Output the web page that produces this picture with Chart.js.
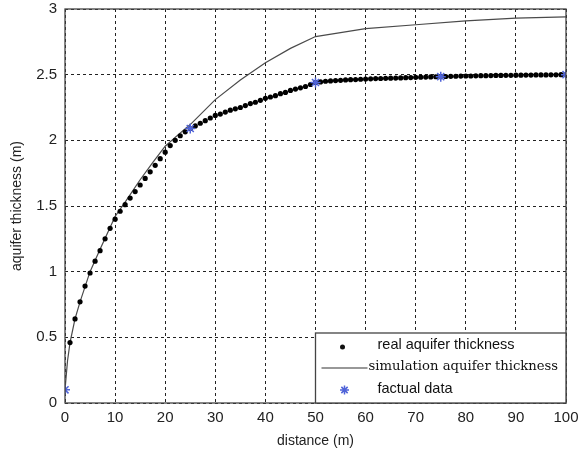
<!DOCTYPE html>
<html>
<head>
<meta charset="utf-8">
<script src="https://cdn.jsdelivr.net/npm/chart.js@4"></script>
<style>
  html, body { margin: 0; padding: 0; background: #fff; }
</style>
</head>
<body>
<canvas id="chart" width="582" height="455"></canvas>
<script>
// tick steps
const xStep = 10;
const yStep = 0.5;

// real aquifer thickness (dots)
const realDist = [
  1, 2, 3, 4, 5, 6, 7, 8, 9, 10, 11, 12, 13, 14, 15, 16, 17, 18, 19, 20,
  21, 22, 23, 24, 25, 26, 27, 28, 29, 30, 31, 32, 33, 34, 35, 36, 37, 38, 39, 40,
  41, 42, 43, 44, 45, 46, 47, 48, 49, 50, 51, 52, 53, 54, 55, 56, 57, 58, 59, 60,
  61, 62, 63, 64, 65, 66, 67, 68, 69, 70, 71, 72, 73, 74, 75, 76, 77, 78, 79, 80,
  81, 82, 83, 84, 85, 86, 87, 88, 89, 90, 91, 92, 93, 94, 95, 96, 97, 98, 99, 100
];
const realThick = [
  0.46, 0.64, 0.77, 0.89, 0.99, 1.08, 1.16, 1.25, 1.33, 1.40,
  1.46, 1.51, 1.56, 1.61, 1.66, 1.71, 1.76, 1.81, 1.86, 1.91,
  1.96, 2.0, 2.035, 2.065, 2.09, 2.11, 2.13, 2.15, 2.17, 2.19,
  2.20, 2.215, 2.23, 2.24, 2.25, 2.265, 2.28, 2.29, 2.305, 2.32,
  2.33, 2.34, 2.355, 2.365, 2.38, 2.39, 2.40, 2.41, 2.425, 2.44,
  2.445, 2.45, 2.452, 2.455, 2.457, 2.46, 2.462, 2.463, 2.465, 2.467,
  2.468, 2.47, 2.471, 2.472, 2.473, 2.474, 2.475, 2.477, 2.478, 2.48,
  2.481, 2.482, 2.483, 2.484, 2.485, 2.486, 2.487, 2.488, 2.489, 2.49,
  2.49, 2.491, 2.492, 2.492, 2.493, 2.494, 2.494, 2.495, 2.495, 2.496,
  2.496, 2.497, 2.497, 2.498, 2.498, 2.498, 2.499, 2.499, 2.5, 2.5
];

// simulation aquifer thickness (line)
const simDist = [0, 0.5, 1, 2, 3, 5, 7, 10, 12, 15, 17.5, 20, 22.5, 25, 30, 35, 40, 45, 50, 55, 60, 70, 80, 90, 100];
const simThick = [0.1, 0.32, 0.46, 0.64, 0.77, 1.0, 1.17, 1.42, 1.53, 1.70, 1.83, 1.955, 2.04, 2.12, 2.31, 2.46, 2.59, 2.70, 2.79, 2.82, 2.85, 2.88, 2.91, 2.93, 2.94];

// factual data (stars)
const factDist = [0, 25, 50, 75, 100];
const factThick = [0.1, 2.09, 2.44, 2.485, 2.5];

const legendLabels = ["real aquifer thickness", "simulation aquifer thickness", "factual data"];

const toXY = (xs, ys) => xs.map((x, i) => ({ x, y: ys[i] }));

const starBlue = "#4f63d8";
const tickFont = "'Liberation Sans Narrow', 'Liberation Sans', Arial, sans-serif";

// solid box around the plot
const frame = {
  id: "frame",
  afterDraw(chart) {
    const { ctx, chartArea: a } = chart;
    ctx.save();
    ctx.strokeStyle = "#444";
    ctx.lineWidth = 1.3;
    ctx.setLineDash([]);
    ctx.strokeRect(a.left, a.top, a.right - a.left, a.bottom - a.top);
    ctx.restore();
  },
};

// matlab-like legend box in the lower right corner
const boxLegend = {
  id: "boxLegend",
  afterDraw(chart) {
    const { ctx, chartArea: a } = chart;
    const x = chart.scales.x.getPixelForValue(50);
    const w = a.right - x;
    const h = 70;
    const y = a.bottom - h;
    ctx.save();
    ctx.fillStyle = "#fff";
    ctx.fillRect(x, y, w, h);
    ctx.strokeStyle = "#444";
    ctx.lineWidth = 1.3;
    ctx.strokeRect(x, y, w, h);
    ctx.fillStyle = "#111";
    ctx.textBaseline = "middle";

    // row 1: dot
    let ry = y + 12;
    ctx.beginPath();
    ctx.arc(x + 27, ry + 2, 2.5, 0, Math.PI * 2);
    ctx.fill();
    ctx.font = "14.5px 'Liberation Sans', Arial, sans-serif";
    ctx.fillText(legendLabels[0], x + 62, ry);

    // row 2: line
    ry = y + 34;
    ctx.strokeStyle = "#333";
    ctx.lineWidth = 1.2;
    ctx.beginPath();
    ctx.moveTo(x + 6, ry + 1);
    ctx.lineTo(x + 52, ry + 1);
    ctx.stroke();
    ctx.font = "13.2px 'DejaVu Serif', serif";
    ctx.fillText(legendLabels[1], x + 53, ry);

    // row 3: star
    ry = y + 56;
    const cx = x + 29, cy = ry + 1, r = 4.5;
    ctx.strokeStyle = starBlue;
    ctx.lineWidth = 1.5;
    ctx.beginPath();
    ctx.moveTo(cx - r, cy); ctx.lineTo(cx + r, cy);
    ctx.moveTo(cx, cy - r); ctx.lineTo(cx, cy + r);
    const d = r * 0.7;
    ctx.moveTo(cx - d, cy - d); ctx.lineTo(cx + d, cy + d);
    ctx.moveTo(cx - d, cy + d); ctx.lineTo(cx + d, cy - d);
    ctx.stroke();
    ctx.fillStyle = "#111";
    ctx.font = "14.5px 'Liberation Sans', Arial, sans-serif";
    ctx.fillText(legendLabels[2], x + 62, ry);
    ctx.restore();
  },
};

Chart.defaults.font.family = "'Liberation Sans', Arial, sans-serif";
Chart.defaults.color = "#222";

new Chart(document.getElementById("chart").getContext("2d"), {
  type: "scatter",
  data: {
    datasets: [
      {
        label: legendLabels[0],
        data: toXY(realDist, realThick),
        pointStyle: "circle",
        pointRadius: 2.6,
        pointBackgroundColor: "#000",
        pointBorderWidth: 0,
        showLine: false,
        order: 2,
      },
      {
        label: legendLabels[1],
        data: toXY(simDist, simThick),
        showLine: true,
        borderColor: "#4a4a4a",
        borderWidth: 1.2,
        pointRadius: 0,
        tension: 0,
        order: 3,
      },
      {
        label: legendLabels[2],
        data: toXY(factDist, factThick),
        pointStyle: "star",
        pointRadius: 5,
        pointBorderColor: starBlue,
        pointBorderWidth: 1.5,
        showLine: false,
        order: 1,
      },
    ],
  },
  options: {
    responsive: false,
    animation: false,
    layout: { padding: { top: 9, right: 16, left: 0, bottom: 0 } },
    plugins: {
      legend: { display: false },
      tooltip: { enabled: false },
    },
    scales: {
      x: {
        type: "linear",
        min: 0,
        max: 100,
        afterFit: (s) => { s.height = 52; s.paddingLeft = 0; s.paddingRight = 0; },
        ticks: { stepSize: xStep, autoSkip: false, font: { size: 15, family: tickFont }, padding: 6, maxRotation: 0, callback: (v) => String(v) },
        grid: { color: "#222", lineWidth: 1, drawTicks: false },
        border: { display: false, dash: [3, 3] },
        title: { display: true, text: "distance (m)", font: { size: 14 }, padding: { top: 0, bottom: 5 } },
      },
      y: {
        type: "linear",
        min: 0,
        max: 3,
        afterFit: (s) => { s.width = 65; s.paddingTop = 0; s.paddingBottom = 0; },
        ticks: { stepSize: yStep, autoSkip: false, font: { size: 15, family: tickFont }, padding: 8, callback: (v) => String(v) },
        grid: { color: "#222", lineWidth: 1, drawTicks: false },
        border: { display: false, dash: [3, 3] },
        title: { display: true, text: "aquifer thickness (m)", font: { size: 14 }, padding: { top: 9, bottom: 0 } },
      },
    },
  },
  plugins: [frame, boxLegend],
});
</script>
</body>
</html>
